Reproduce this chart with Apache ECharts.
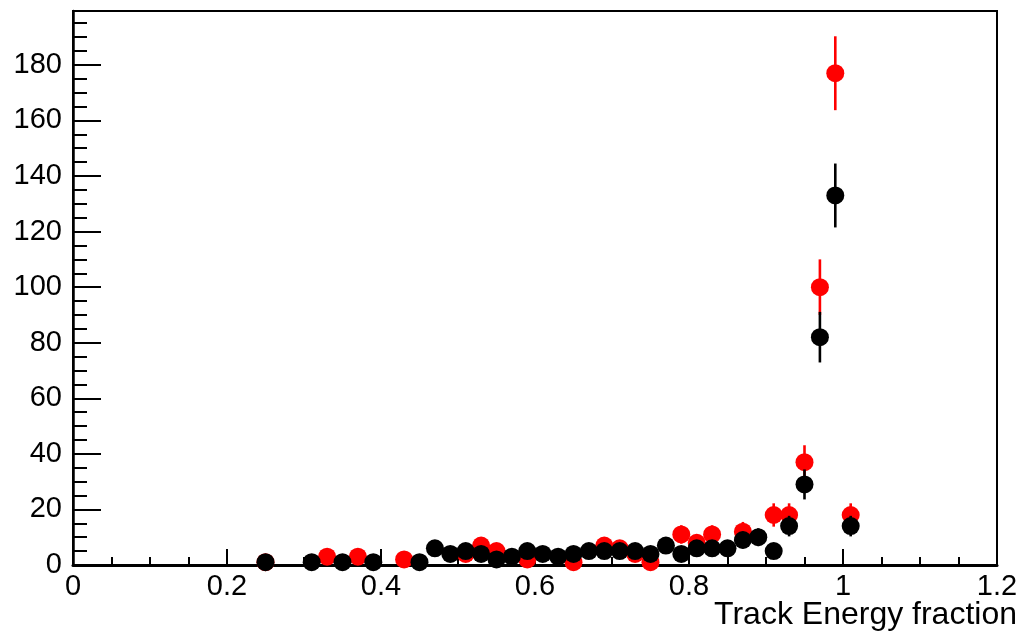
<!DOCTYPE html>
<html>
<head>
<meta charset="utf-8">
<script src="https://cdn.jsdelivr.net/npm/echarts@6/dist/echarts.min.js"></script>
<style>
  html, body { margin: 0; padding: 0; background: #fff; }
  #chart { width: 1024px; height: 637px; }
</style>
</head>
<body>
<div id="chart"></div>
<script>
// Histogram bin centres (bin width 0.02)
const binCenters = [0.25, 0.27, 0.29, 0.31, 0.33, 0.35, 0.37, 0.39, 0.41, 0.43,
                    0.45, 0.47, 0.49, 0.51, 0.53, 0.55, 0.57, 0.59, 0.61, 0.63,
                    0.65, 0.67, 0.69, 0.71, 0.73, 0.75, 0.77, 0.79, 0.81, 0.83,
                    0.85, 0.87, 0.89, 0.91, 0.93, 0.95, 0.97, 0.99, 1.01];

// Red histogram contents (null = empty bin)
const redCounts = [1, null, null, null, 3, null, 3, null, null, 2,
                   null, null, null, 4, 7, 5, null, 2, null, null,
                   1, null, 7, 6, 4, 1, null, 11, 8, 11,
                   null, 12, null, 18, 18, 37, 100, 177, 18];
const redErrors = [1, null, null, null, 1.7, null, 1.7, null, null, 1.4,
                   null, null, null, 2, 2.6, 2.2, null, 1.4, null, null,
                   1, null, 2.6, 2.4, 2, 1, null, 3.3, 2.8, 3.3,
                   null, 3.5, null, 4.2, 4.2, 6.1, 10, 13.3, 4.2];

// Black histogram contents (null = empty bin)
const blackCounts = [1, null, null, 1, null, 1, null, 1, null, null,
                     1, 6, 4, 5, 4, 2, 3, 5, 4, 3,
                     4, 5, 5, 5, 5, 4, 7, 4, 6, 6,
                     6, 9, 10, 5, 14, 29, 82, 133, 14];
const blackErrors = [1, null, null, 1, null, 1, null, 1, null, null,
                     1, 2.4, 2, 2.2, 2, 1.4, 1.7, 2.2, 2, 1.7,
                     2, 2.2, 2.2, 2.2, 2.2, 2, 2.6, 2, 2.4, 2.4,
                     2.4, 3, 3.2, 2.2, 3.7, 5.4, 9.1, 11.5, 3.7];

const yTickLabels = ['0', '20', '40', '60', '80', '100', '120', '140', '160', '180'];
const xTickLabels = ['0', '0.2', '0.4', '0.6', '0.8', '1', '1.2'];
const xTitle = 'Track Energy fraction';

const FONT = '"Liberation Sans", Arial, Helvetica, sans-serif';

function points(counts) {
  const out = [];
  counts.forEach((v, i) => { if (v !== null) out.push([binCenters[i], v]); });
  return out;
}
function bars(counts, errs) {
  const out = [];
  counts.forEach((v, i) => { if (v !== null) out.push([binCenters[i], v - errs[i], v + errs[i]]); });
  return out;
}
function errorSeries(counts, errs, color, z) {
  return {
    type: 'custom',
    z: z,
    silent: true,
    data: bars(counts, errs),
    encode: { x: 0, y: [1, 2] },
    renderItem: function (params, api) {
      const p1 = api.coord([api.value(0), api.value(1)]);
      const p2 = api.coord([api.value(0), api.value(2)]);
      return {
        type: 'line',
        shape: { x1: p1[0], y1: p1[1], x2: p2[0], y2: p2[1] },
        style: { stroke: color, lineWidth: 2.6 }
      };
    }
  };
}
function markerSeries(counts, color, z) {
  return {
    type: 'scatter',
    z: z,
    silent: true,
    symbol: 'circle',
    symbolSize: 18,
    itemStyle: { color: color, opacity: 1 },
    data: points(counts)
  };
}

const chart = echarts.init(document.getElementById('chart'), null, { renderer: 'canvas' });

chart.setOption({
  animation: false,
  backgroundColor: '#fff',
  grid: {
    left: 73, right: 27, top: 11, bottom: 72,
    containLabel: false,
    outerBoundsMode: 'none',
    show: true, borderColor: '#000', borderWidth: 2, backgroundColor: 'transparent'
  },
  graphic: [{
    type: 'text',
    right: 7,
    top: 599,
    silent: true,
    style: {
      text: xTitle,
      font: '32px ' + FONT,
      fill: '#000'
    }
  }],
  xAxis: {
    type: 'value',
    min: 0, max: 1.2, interval: 0.2,
    axisLine: { show: true, onZero: false, lineStyle: { color: '#000', width: 3 } },
    axisTick: { show: true, inside: true, length: 16, lineStyle: { color: '#000', width: 2 } },
    minorTick: { show: true, splitNumber: 4, length: 8, lineStyle: { color: '#000', width: 2 } },
    axisLabel: {
      fontFamily: FONT, fontSize: 29, color: '#000', margin: 7,
      formatter: function (v) { return xTickLabels[Math.round(v / 0.2)]; }
    },
    splitLine: { show: false }
  },
  yAxis: {
    type: 'value',
    min: 0, max: 199.4, interval: 20,
    axisLine: { show: true, onZero: false, lineStyle: { color: '#000', width: 2.5 } },
    axisTick: { show: true, inside: true, length: 28, lineStyle: { color: '#000', width: 2 } },
    minorTick: { show: true, splitNumber: 4, length: 14, lineStyle: { color: '#000', width: 2 } },
    axisLabel: {
      fontFamily: FONT, fontSize: 29, color: '#000', margin: 11,
      showMaxLabel: false,
      formatter: function (v) {
        const i = Math.round(v / 20);
        return (Math.abs(v - i * 20) < 1e-6 && yTickLabels[i] !== undefined) ? yTickLabels[i] : '';
      }
    },
    splitLine: { show: false }
  },
  series: [
    errorSeries(redCounts, redErrors, '#ff0000', 2),
    markerSeries(redCounts, '#ff0000', 3),
    errorSeries(blackCounts, blackErrors, '#000000', 4),
    markerSeries(blackCounts, '#000000', 5)
  ]
});
</script>
</body>
</html>
